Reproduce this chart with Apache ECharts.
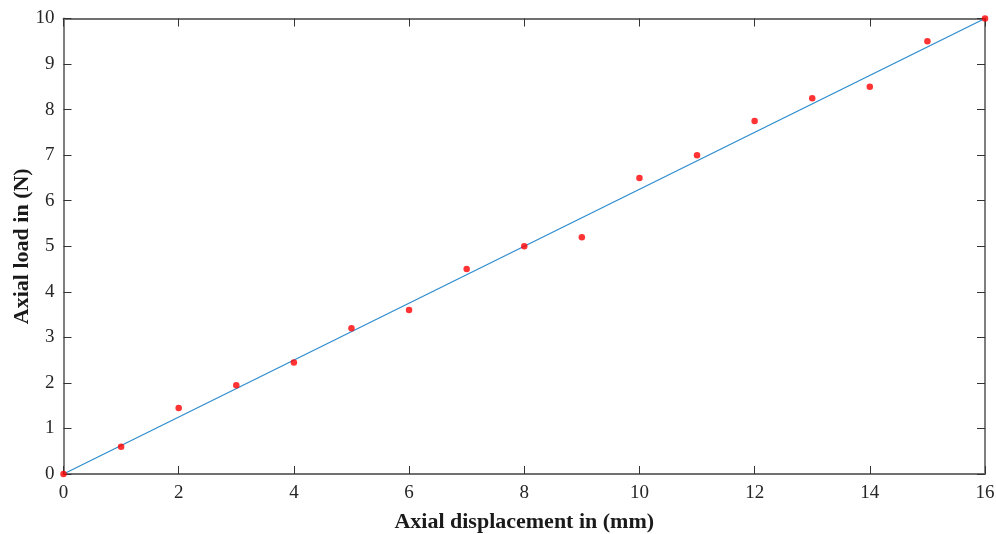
<!DOCTYPE html>
<html><head><meta charset="utf-8">
<script src="https://cdn.jsdelivr.net/npm/echarts@6/dist/echarts.min.js"></script>
<style>html,body{margin:0;padding:0;background:#fff}#c{width:996px;height:534px}</style>
</head><body><div id="c"></div>
<script>
const displacement = [0,1,2,3,4,5,6,7,8,9,10,11,12,13,14,15,16];
const load = [0,0.6,1.45,1.95,2.45,3.2,3.6,4.5,5.0,5.2,6.5,7.0,7.75,8.25,8.5,9.5,10];
const fitX = [0,16];
const fitY = [0,10];
const xTitle = 'Axial displacement in (mm)';
const yTitle = 'Axial load in (N)';

const font = 'Liberation Serif, Times New Roman, serif';
const axisLine = {show:true, onZero:false, lineStyle:{color:'#707070', width:1.8}};
const tick = {show:true, inside:true, length:8, lineStyle:{color:'#333', width:1}};
const chart = echarts.init(document.getElementById('c'));
chart.setOption({
  animation:false,
  grid:{left:63.5, right:11, top:18.5, bottom:60, containLabel:false, outerBoundsMode:'none'},
  xAxis:[{type:'value', min:0, max:16, interval:2, position:'bottom',
    axisLine, axisTick:tick, splitLine:{show:false},
    axisLabel:{fontFamily:font, fontSize:19, color:'#262626', margin:10},
    name:xTitle, nameLocation:'middle', nameGap:37, nameMoveOverlap:false,
    nameTextStyle:{fontFamily:font, fontSize:22, fontWeight:'bold', color:'#1a1a1a'}},
   {type:'value', min:0, max:16, interval:2, position:'top',
    axisLine, axisTick:tick, axisLabel:{show:false}, splitLine:{show:false}}],
  yAxis:[{type:'value', min:0, max:10, interval:1, position:'left',
    axisLine, axisTick:tick, splitLine:{show:false},
    axisLabel:{fontFamily:font, fontSize:19, color:'#262626', margin:9},
    name:yTitle, nameLocation:'middle', nameGap:30, nameMoveOverlap:false,
    nameTextStyle:{fontFamily:font, fontSize:22, fontWeight:'bold', color:'#1a1a1a'}},
   {type:'value', min:0, max:10, interval:1, position:'right',
    axisLine, axisTick:tick, axisLabel:{show:false}, splitLine:{show:false}}],
  series:[
    {type:'line', data:fitX.map((x,i)=>[x,fitY[i]]), showSymbol:false, symbol:'none',
     lineStyle:{color:'#2e8dcf', width:1.2}, z:2},
    {type:'scatter', data:displacement.map((x,i)=>[x,load[i]]), symbolSize:6.5,
     itemStyle:{color:'#ff0000'}, z:3}
  ]
});
</script></body></html>
